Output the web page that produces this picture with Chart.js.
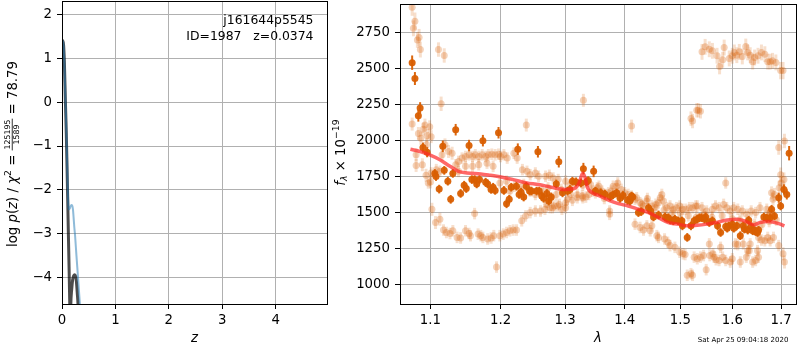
<!DOCTYPE html>
<html><head><meta charset="utf-8">
<script src="https://cdn.jsdelivr.net/npm/chart.js@4/dist/chart.umd.min.js"></script>
<style>
html,body{margin:0;padding:0;background:#fff;}
#wrap{position:relative;width:800px;height:350px;overflow:hidden;background:#fff;}
canvas{position:absolute;top:0;}
#c1{left:0;} #c2{left:330px;}
</style></head><body>
<div id="wrap"><canvas id="c1" width="330" height="350"></canvas><canvas id="c2" width="470" height="350"></canvas></div>
<script>
// ---------------- data: left panel (redshift PDF) ----------------
const zBlack    = [0,0.015,0.03,0.045,0.063,0.08,0.094,0.107,0.119,0.132,0.144,0.155,0.165,0.18,0.2,0.22,0.238,0.255,0.27,0.285,0.3,0.315];
const logpBlack = [1.41,1.40,1.3,0.9,0.05,-0.7,-1.47,-2.23,-2.99,-3.76,-4.51,-5.3,-4.62,-4.3,-4.05,-3.96,-3.94,-3.98,-4.1,-4.35,-4.62,-5.2];
const zBlue     = [0,0.015,0.03,0.045,0.065,0.083,0.098,0.11,0.12,0.13,0.145,0.16,0.175,0.19,0.205,0.215,0.23,0.245,0.27,0.3,0.335,0.35];
const logpBlue  = [1.41,1.40,1.3,0.9,0.05,-0.7,-1.47,-2.05,-2.38,-2.45,-2.43,-2.38,-2.35,-2.36,-2.45,-2.6,-2.85,-3.05,-3.5,-4.0,-4.62,-4.9];
const zTicks    = [0,1,2,3,4];
const logpTicks = [-4,-3,-2,-1,0,1,2];
const objName   = 'j161644p5545';
const idLine    = 'ID=1987   z=0.0374';

// ---------------- data: right panel (spectrum) ----------------
const darkLam = [1.0753,1.079,1.0836,1.086,1.0898,1.0955,1.106,1.1076,1.112,1.117,
1.119,1.124,1.128,1.131,1.135,1.142,1.147,1.150,1.154,1.158,
1.162,1.165,1.169,1.174,1.178,1.181,1.186,1.189,1.192,1.197,
1.205,1.209,1.213,1.216,1.224,1.226,1.228,1.231,1.235,1.239,
1.244,1.247,1.255,1.257,1.259,1.263,1.266,1.271,1.274,1.278,
1.286,1.290,1.296,1.304,1.308,1.312,1.318,1.326,1.330,1.335,
1.338,1.347,1.350,1.359,1.366,1.375,1.380,1.386,1.392,1.397,
1.405,1.409,1.412,1.414,1.424,1.429,1.442,1.446,1.451,1.460,
1.472,1.475,1.478,1.481,1.487,1.490,1.496,1.503,1.504,1.513,
1.520,1.526,1.532,1.536,1.540,1.546,1.548,1.555,1.561,1.571,
1.577,1.587,1.590,1.593,1.600,1.603,1.609,1.616,1.622,1.624,
1.631,1.633,1.638,1.641,1.645,1.647,1.651,1.653,1.664,1.670,
1.677,1.680,1.686,1.695,1.699,1.706,1.712,1.717];
const darkFlux = [2542,2432,2173,2228,1953,1921,1774,1752,1665,1962,
1795,1720,1594,1774,2077,1635,1692,1669,1967,1731,
1731,1701,1731,2001,1713,1701,1663,1678,1656,2056,
1656,1563,1594,1678,1685,1942,1628,1644,1610,1685,
1651,1651,1651,1924,1651,1617,1601,1635,1582,1610,
1701,1855,1639,1651,1663,1720,1715,1708,1807,1715,
1724,1788,1651,1639,1630,1612,1625,1639,1601,1621,
1587,1582,1617,1610,1502,1509,1536,1513,1472,1486,
1472,1463,1467,1452,1445,1456,1445,1445,1410,1330,
1410,1445,1456,1467,1467,1456,1472,1433,1445,1410,
1364,1405,1394,1410,1422,1394,1410,1342,1410,1388,
1381,1449,1403,1376,1376,1371,1364,1381,1472,1463,
1467,1525,1479,1605,1548,1663,1628,1914];
const darkErr = [50,45,40,40,35,35,30,30,30,40,
30,30,30,30,40,30,30,30,40,30,
30,30,30,40,30,30,30,30,30,40,
30,30,30,30,30,40,30,30,30,30,
30,30,30,40,30,30,30,30,30,30,
30,40,30,30,30,30,30,30,40,30,
30,40,30,30,30,30,30,30,30,30,
30,30,30,30,30,30,30,30,30,30,
30,30,30,30,30,30,30,30,30,30,
30,30,30,30,30,30,30,30,30,30,
30,30,30,30,30,30,30,30,30,30,
30,30,30,30,30,30,30,30,30,30,
30,30,30,35,30,35,35,50];

// faded points from the other beams: [lambda, flux, err]
const fadedPts = [
[1.0753,2927,60],[1.079,2830,60],[1.077,2780,55],[1.0846,2716,60],[1.0823,2700,55],[1.0863,2633,55],[1.111,2633,50],[1.119,2592,50],[1.1147,2257,50],[1.330,2281,45],[1.0753,2116,45],[1.239,2109,45],
[1.0837,2051,45],[1.0903,2081,45],[1.0925,2109,45],[1.099,2097,45],[1.087,2017,45],[1.0955,2036,45],[1.101,2029,45],[1.0947,1972,45],[1.0806,1903,45],[1.0806,1829,45],[1.089,1834,45],[1.094,1761,45],[1.1,1715,45],[1.12,1972,45],[1.125,1926,45],[1.13,1914,45],[1.116,1903,45],[1.101,1777,40],[1.108,1800,40],[1.113,1788,40],[1.097,1708,40],
[1.135,1834,40],[1.139,1857,40],[1.144,1880,40],[1.149,1891,40],[1.154,1903,40],[1.159,1891,40],[1.163,1903,40],[1.168,1891,40],[1.173,1903,40],[1.178,1891,40],[1.182,1903,40],[1.187,1907,40],[1.192,1903,40],[1.197,1907,40],
[1.139,1788,40],[1.149,1823,40],[1.159,1823,40],[1.168,1834,40],[1.18,1845,40],[1.189,1823,40],
[1.2,1891,40],[1.205,1903,40],[1.21,1880,40],[1.22,1914,40],[1.225,1880,40],[1.233,1800,40],[1.24,1788,40],[1.245,1765,40],[1.253,1777,40],[1.258,1754,40],[1.269,1754,40],[1.275,1761,40],[1.281,1742,40],[1.289,1731,40],[1.301,1720,40],[1.309,1697,40],[1.317,1708,40],[1.329,1692,40],[1.342,1697,40],[1.353,1674,40],
[1.199,1708,40],[1.209,1720,40],[1.214,1651,40],[1.221,1685,40],[1.229,1663,40],[1.235,1697,40],[1.245,1651,40],[1.253,1628,40],[1.264,1651,40],[1.273,1674,40],[1.277,1605,40],[1.286,1628,40],[1.294,1663,40],
[1.271,1559,40],[1.28,1536,40],[1.288,1548,40],[1.295,1525,40],[1.301,1536,40],
[1.304,1594,40],[1.309,1628,40],[1.32,1628,40],[1.329,1605,40],[1.334,1610,40],[1.345,1651,40],[1.35,1639,40],
[1.102,1525,45],[1.107,1433,45],[1.113,1456,45],[1.118,1381,40],[1.122,1364,40],[1.127,1357,40],[1.131,1376,40],[1.137,1330,40],[1.142,1326,40],[1.149,1376,40],[1.154,1357,40],[1.156,1342,40],[1.162,1495,40],[1.167,1353,40],[1.171,1342,40],[1.174,1330,40],[1.181,1319,40],[1.186,1326,40],[1.19,1342,40],[1.194,1124,40],[1.199,1342,40],[1.204,1353,40],[1.209,1364,40],[1.214,1376,40],[1.219,1381,40],[1.224,1381,40],[1.232,1445,40],[1.238,1479,40],[1.245,1502,40],[1.253,1513,40],[1.261,1513,40],[1.268,1525,40],[1.276,1536,40],[1.283,1548,40],[1.291,1559,40],[1.301,1570,40],[1.312,1587,40],[1.32,1605,40],[1.328,1617,40],[1.339,1628,40],
[1.356,1685,40],[1.361,1651,40],[1.367,1628,40],[1.372,1639,40],[1.377,1651,40],[1.38,1685,40],[1.386,1685,40],[1.388,1708,40],[1.394,1663,40],[1.4,1639,40],[1.406,1628,40],[1.412,1617,40],[1.418,1594,40],[1.421,1605,40],[1.427,1570,40],[1.433,1548,40],[1.439,1582,40],[1.448,1548,40],[1.454,1536,40],[1.46,1570,40],[1.463,1605,40],[1.466,1628,40],[1.469,1582,40],[1.475,1536,40],[1.481,1548,40],[1.487,1525,40],[1.493,1536,40],[1.499,1548,40],[1.504,1525,40],[1.51,1525,40],[1.517,1536,40],[1.523,1536,40],[1.529,1548,40],
[1.532,1548,40],[1.541,1536,40],[1.55,1513,40],[1.561,1525,40],[1.567,1548,40],[1.574,1536,40],[1.583,1559,40],[1.589,1536,40],[1.596,1513,40],[1.603,1536,40],[1.611,1525,40],[1.62,1513,40],[1.629,1490,40],[1.638,1513,40],[1.647,1502,40],[1.656,1536,40],
[1.365,1600,40],[1.39,1620,40],[1.41,1590,40],[1.43,1560,40],[1.44,1600,40],[1.455,1560,40],[1.47,1520,40],[1.485,1500,40],[1.5,1500,40],[1.515,1480,40],[1.53,1470,40],[1.545,1490,40],[1.56,1470,40],[1.58,1480,40],[1.6,1460,40],[1.615,1450,40],[1.63,1430,40],[1.645,1420,40],[1.66,1420,40],[1.675,1440,40],[1.69,1450,40],
[1.587,1708,40],[1.67,1525,40],[1.677,1502,40],[1.674,1479,40],[1.68,1639,45],[1.686,1628,45],[1.683,1594,45],[1.706,1731,50],[1.699,1765,50],[1.7,1708,50],[1.696,1674,50],
[1.374,1513,40],[1.374,1490,40],[1.418,1422,40],[1.427,1399,40],[1.433,1381,40],[1.439,1410,40],[1.445,1376,40],[1.448,1410,40],[1.457,1342,40],[1.46,1330,40],[1.471,1319,40],[1.477,1296,40],[1.481,1273,40],[1.49,1261,40],[1.499,1227,40],[1.505,1216,40],[1.509,1211,40],[1.513,1067,40],[1.52,1078,40],[1.523,1067,40],
[1.526,1193,40],[1.532,1182,40],[1.538,1193,40],[1.544,1204,40],[1.549,1106,40],[1.556,1204,40],[1.562,1216,40],[1.568,1175,40],[1.574,1170,40],[1.581,1193,40],[1.587,1170,40],[1.6,1182,40],[1.606,1285,40],[1.616,1159,40],[1.622,1285,40],[1.628,1193,40],[1.634,1238,40],[1.641,1159,40],[1.647,1170,40],[1.653,1193,40],[1.659,1312,40],[1.666,1307,40],[1.672,1330,40],[1.677,1307,40],[1.684,1330,40],
[1.555,1285,40],[1.564,1193,40],[1.577,1261,40],[1.596,1159,40],[1.611,1280,40],[1.631,1238,40],[1.636,1285,40],[1.651,1238,40],[1.653,1330,40],[1.695,1273,40],[1.704,1216,45],[1.707,1159,45],
[1.412,2102,45],[1.52,2154,50],[1.523,2137,50],[1.531,2212,50],[1.534,2212,50],[1.538,2205,50],
[1.541,2617,55],[1.547,2652,55],[1.555,2635,55],[1.561,2624,55],[1.57,2590,55],[1.575,2516,55],[1.581,2562,55],[1.584,2647,55],[1.594,2571,55],[1.6,2590,55],[1.604,2613,55],[1.609,2594,55],[1.614,2617,55],[1.62,2585,55],[1.627,2654,55],[1.631,2613,55],[1.636,2594,55],[1.641,2549,55],[1.645,2578,55],[1.652,2590,55],[1.659,2613,55],[1.666,2601,55],[1.672,2549,55],[1.677,2549,55],[1.682,2555,55],[1.689,2544,55],[1.699,2487,60],[1.704,2487,60],
[1.695,1953,50],[1.707,1999,50]
];

const modelLam  = [1.073,1.086,1.099,1.113,1.127,1.139,1.151,1.171,1.185,1.199,1.219,1.24,1.258,1.278,1.301,1.315,1.323,1.329,1.333,1.337,1.345,1.356,1.373,1.389,1.406,1.424,1.442,1.46,1.478,1.496,1.513,1.532,1.55,1.568,1.587,1.609,1.628,1.643,1.656,1.672,1.695,1.707];
const modelFlux = [1941,1926,1903,1869,1823,1788,1777,1770,1761,1751,1731,1708,1697,1678,1663,1669,1708,1777,1742,1674,1639,1620,1587,1564,1548,1525,1502,1467,1433,1422,1410,1414,1422,1433,1449,1456,1440,1417,1433,1440,1426,1410];
const lamTicks  = [1.1,1.2,1.3,1.4,1.5,1.6,1.7];
const fluxTicks = [1000,1250,1500,1750,2000,2250,2500,2750];
const stamp     = 'Sat Apr 25 09:04:18 2020';

// ---------------- drawing ----------------
const FAM = 'DejaVu Sans';
const FS = 13.3;
Chart.defaults.font.family = FAM;
Chart.defaults.font.size = FS;
Chart.defaults.color = '#000';

const minusFmt = v => (v < 0 ? '\u2212' + Math.abs(v) : String(v));

const framePlugin = {
  id: 'frame',
  afterDatasetsDraw(chart) {
    const {ctx, chartArea: a} = chart;
    const l = Math.round(a.left), t = Math.round(a.top), r = Math.round(a.right), b = Math.round(a.bottom);
    ctx.save();
    ctx.strokeStyle = '#000'; ctx.lineWidth = 1;
    ctx.strokeRect(l + 0.5, t + 0.5, r - l, b - t);
    ctx.restore();
  }
};

const errPlugin = {
  id: 'errbars',
  beforeDatasetDraw(chart, args) {
    const ds = chart.data.datasets[args.index];
    if (!ds.errs) return;
    const {ctx, chartArea: a, scales: {x, y}} = chart;
    ctx.save();
    ctx.beginPath(); ctx.rect(a.left, a.top, a.right - a.left, a.bottom - a.top); ctx.clip();
    ctx.strokeStyle = ds.errColor; ctx.lineWidth = ds.errWidth;
    ds.data.forEach((p, i) => {
      const px = x.getPixelForValue(p.x);
      const e = ds.errs[i];
      ctx.beginPath();
      ctx.moveTo(px, y.getPixelForValue(p.y - e));
      ctx.lineTo(px, y.getPixelForValue(p.y + e));
      ctx.stroke();
    });
    ctx.restore();
  }
};

// rich rotated text: pieces {t, font, dy} or {frac:[num,den], font, numDy, denDy, barDy}
function drawRotated(ctx, pieces, baseX, cy) {
  ctx.save();
  ctx.translate(baseX, cy);
  ctx.rotate(-Math.PI / 2);
  ctx.textBaseline = 'alphabetic';
  ctx.textAlign = 'left';
  ctx.fillStyle = '#000';
  let total = 0;
  const widths = pieces.map(p => {
    ctx.font = p.font;
    const w = p.frac ? Math.max(ctx.measureText(p.frac[0]).width, ctx.measureText(p.frac[1]).width) + 2 : ctx.measureText(p.t).width;
    total += w; return w;
  });
  let x = -total / 2;
  pieces.forEach((p, i) => {
    ctx.font = p.font;
    const w = widths[i];
    if (p.frac) {
      ctx.textAlign = 'center';
      ctx.fillText(p.frac[0], x + w / 2, p.numDy);
      ctx.fillText(p.frac[1], x + w / 2, p.denDy);
      ctx.textAlign = 'left';
      ctx.fillRect(x, p.barDy - 0.4, w, 0.8);
    } else {
      ctx.fillText(p.t, x, p.dy || 0);
    }
    x += w;
  });
  ctx.restore();
}

const leftText = {
  id: 'leftText',
  afterDraw(chart) {
    const ctx = chart.ctx;
    ctx.save();
    ctx.fillStyle = '#000';
    ctx.font = `12.4px "${FAM}"`;
    ctx.textAlign = 'right'; ctx.textBaseline = 'alphabetic';
    ctx.fillText(objName, 313.5, 24.3);
    ctx.fillText(idLine, 313.5, 39.8);
    ctx.restore();
    const N = `${FS}px "${FAM}"`, I = `italic ${FS}px "${FAM}"`, S = `${(FS * 0.7).toFixed(2)}px "${FAM}"`, FR = `7.8px "${FAM}"`;
    drawRotated(ctx, [
      {t: 'log ', font: N}, {t: 'p', font: I}, {t: '(', font: N}, {t: 'z', font: I}, {t: ')', font: N},
      {t: ' / ', font: N}, {t: '\u03c7', font: I}, {t: '2', font: S, dy: -5.5}, {t: ' = ', font: N},
      {frac: ['125195', '1589'], font: FR, numDy: -6.8, denDy: 2.6, barDy: -4.6},
      {t: ' = 78.79', font: N}
    ], 16.8, 154);
  }
};

const rightText = {
  id: 'rightText',
  afterDraw(chart) {
    const ctx = chart.ctx;
    const N = `${FS}px "${FAM}"`, I = `italic ${FS}px "${FAM}"`, S = `${(FS * 0.7).toFixed(2)}px "${FAM}"`, SI = `italic ${(FS * 0.7).toFixed(2)}px "${FAM}"`;
    drawRotated(ctx, [
      {t: 'f', font: I}, {t: '\u03bb', font: SI, dy: 2.6}, {t: ' \u00d7 10', font: N}, {t: '\u221219', font: S, dy: -5.5}
    ], 14.6, 152.5);
    ctx.save();
    ctx.fillStyle = '#000';
    ctx.font = `7px "${FAM}"`;
    ctx.textAlign = 'left'; ctx.textBaseline = 'alphabetic';
    ctx.fillText(stamp, 367.7, 342);
    ctx.restore();
  }
};

function zeroPad(s) { s.paddingTop = 0; s.paddingBottom = 0; s.paddingLeft = 0; s.paddingRight = 0; }
const gridOpts = {color: '#b0b0b0', lineWidth: 1, drawTicks: true, tickLength: 5, tickColor: '#000', tickWidth: 1};

// ---- left chart ----
new Chart(document.getElementById('c1'), {
  type: 'line',
  data: {datasets: [
    {data: zBlue.map((z, i) => ({x: z, y: logpBlue[i]})), borderColor: 'rgba(31,119,180,0.5)', borderWidth: 2, pointRadius: 0, cubicInterpolationMode: 'monotone', clip: 0, order: 0},
    {data: zBlack.map((z, i) => ({x: z, y: logpBlack[i]})), borderColor: 'rgba(0,0,0,0.7)', borderWidth: 3, pointRadius: 0, cubicInterpolationMode: 'monotone', clip: 0, order: 1}
  ]},
  options: {
    responsive: false, animation: false, devicePixelRatio: 1, events: [],
    layout: {padding: {top: 1, right: 3, left: 0, bottom: 0}},
    plugins: {legend: {display: false}, tooltip: {enabled: false}},
    scales: {
      x: {type: 'linear', min: 0, max: 4.96,
        afterBuildTicks: s => { s.ticks = zTicks.map(v => ({value: v})); },
        ticks: {autoSkip: false, maxRotation: 0, padding: 4, callback: v => minusFmt(v)},
        grid: gridOpts, border: {display: false},
        title: {display: true, text: 'z', font: {style: 'italic', size: FS}, padding: {top: 0, bottom: 3}},
        afterFit: s => { s.height = 46; zeroPad(s); }},
      y: {type: 'linear', min: -4.61, max: 2.313,
        afterBuildTicks: s => { s.ticks = logpTicks.map(v => ({value: v})); },
        ticks: {autoSkip: false, padding: 5, callback: v => minusFmt(v)},
        grid: gridOpts, border: {display: false},
        afterFit: s => { s.width = 62; zeroPad(s); }}
    }
  },
  plugins: [framePlugin, leftText]
});

// ---- right chart ----
new Chart(document.getElementById('c2'), {
  type: 'scatter',
  data: {datasets: [
    {data: modelLam.map((l, i) => ({x: l, y: modelFlux[i]})), showLine: true, borderColor: 'rgba(255,40,40,0.7)', borderWidth: 3.5, pointRadius: 0, tension: 0.35, cubicInterpolationMode: 'monotone', clip: 0, order: 0},
    {data: darkLam.map((l, i) => ({x: l, y: darkFlux[i]})), errs: darkErr, errColor: 'rgba(217,95,2,0.95)', errWidth: 2,
      pointRadius: 3.5, pointBackgroundColor: 'rgba(217,95,2,0.95)', pointBorderWidth: 0, clip: 0, order: 1},
    {data: fadedPts.map(p => ({x: p[0], y: p[1]})), errs: fadedPts.map(p => p[2]), errColor: 'rgba(217,95,2,0.2)', errWidth: 3,
      pointRadius: 3.5, pointBackgroundColor: 'rgba(217,95,2,0.28)', pointBorderWidth: 0, clip: 0, order: 2}
  ]},
  options: {
    responsive: false, animation: false, devicePixelRatio: 1, events: [],
    layout: {padding: {top: 1, right: 1, left: 0, bottom: 0}},
    plugins: {legend: {display: false}, tooltip: {enabled: false}},
    scales: {
      x: {type: 'logarithmic', min: 1.0592, max: 1.7317,
        afterBuildTicks: s => { s.ticks = lamTicks.map(v => ({value: v})); },
        ticks: {autoSkip: false, maxRotation: 0, padding: 4, callback: v => Number(v).toFixed(1)},
        grid: gridOpts, border: {display: false},
        title: {display: true, text: '\u03bb', font: {style: 'italic', size: FS}, padding: {top: 0, bottom: 3}},
        afterFit: s => { s.height = 46; zeroPad(s); }},
      y: {type: 'linear', min: 868, max: 2949,
        afterBuildTicks: s => { s.ticks = fluxTicks.map(v => ({value: v})); },
        ticks: {autoSkip: false, padding: 5, callback: v => String(v)},
        grid: gridOpts, border: {display: false},
        afterFit: s => { s.width = 70; zeroPad(s); }}
    }
  },
  plugins: [errPlugin, framePlugin, rightText]
});
</script>
</body></html>
